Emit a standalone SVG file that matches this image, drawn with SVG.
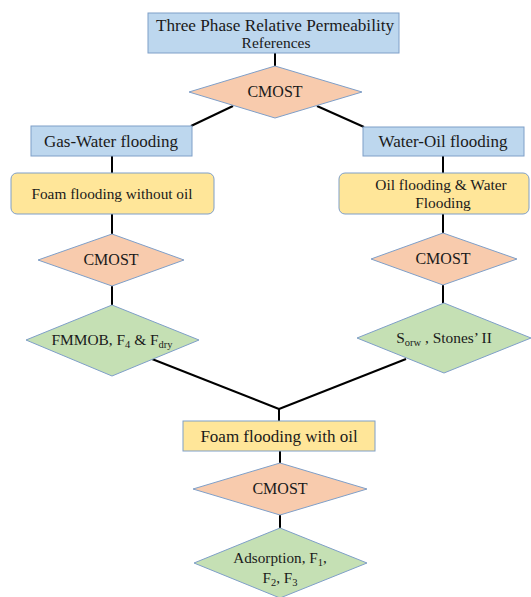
<svg xmlns="http://www.w3.org/2000/svg" width="531" height="597" viewBox="0 0 531 597">
<style>
.t{font-family:"Liberation Serif","Times New Roman",serif;fill:#1a1a1a;text-anchor:middle}
.blue{fill:#BDD7EE;stroke:#7F9FC8;stroke-width:1}
.yel{fill:#FFE699;stroke:#7F9FC8;stroke-width:1}
.org{fill:#F8CBAD;stroke:#7F9FC8;stroke-width:1}
.grn{fill:#C5E0B4;stroke:#7F9FC8;stroke-width:1}
.c{stroke:#000;stroke-width:2;fill:none}
</style>
<rect width="531" height="597" fill="#fff"/>
<g id="connectors">
<line class="c" x1="275" y1="53" x2="275" y2="66"/>
<line class="c" x1="233" y1="106" x2="191" y2="126"/>
<line class="c" x1="317" y1="106" x2="364" y2="127"/>
<line class="c" x1="112" y1="156" x2="112" y2="173"/>
<line class="c" x1="443" y1="156" x2="443" y2="173"/>
<line class="c" x1="112" y1="214" x2="112" y2="234"/>
<line class="c" x1="443" y1="214" x2="443" y2="233"/>
<line class="c" x1="112" y1="286" x2="112" y2="305"/>
<line class="c" x1="443" y1="285" x2="443" y2="303"/>
<line class="c" x1="152" y1="359" x2="279" y2="409"/>
<line class="c" x1="406" y1="359" x2="279" y2="409"/>
<line class="c" x1="279" y1="408" x2="279" y2="421"/>
<line class="c" x1="280" y1="451" x2="280" y2="463"/>
<line class="c" x1="280" y1="515" x2="280" y2="528"/>
</g>
<g id="top">
<rect class="blue" x="148" y="13" width="251" height="40"/>
<text class="t" x="275" y="31" font-size="17.2">Three Phase Relative Permeability</text>
<text class="t" x="276" y="48" font-size="15.5">References</text>
</g>
<g id="cmost1">
<polygon class="org" points="275,66 362,92 275,118 189,92"/>
<text class="t" x="275" y="97" font-size="16">CMOST</text>
</g>
<g id="gaswater">
<rect class="blue" x="31" y="126" width="161" height="30"/>
<text class="t" x="111" y="147" font-size="17">Gas-Water flooding</text>
</g>
<g id="wateroil">
<rect class="blue" x="363" y="127" width="161" height="29"/>
<text class="t" x="443" y="147" font-size="17">Water-Oil flooding</text>
</g>
<g id="foamnooil">
<rect class="yel" x="11" y="173" width="203" height="41" rx="6"/>
<text class="t" x="112" y="199" font-size="15.3">Foam flooding without oil</text>
</g>
<g id="oilwater">
<rect class="yel" x="339" y="173" width="190" height="41" rx="6"/>
<text class="t" x="441" y="190" font-size="15.4">Oil flooding &amp; Water</text>
<text class="t" x="443" y="208" font-size="15.4">Flooding</text>
</g>
<g id="cmost2">
<polygon class="org" points="112,234 184,260 112,286 38,260"/>
<text class="t" x="111" y="265" font-size="16">CMOST</text>
</g>
<g id="cmost3">
<polygon class="org" points="443,233 517,259 443,285 371,259"/>
<text class="t" x="443" y="264" font-size="16">CMOST</text>
</g>
<g id="fmmob">
<polygon class="grn" points="112,305 199,340 112,376 26,340"/>
<text class="t" x="112" y="345" font-size="15.4">FMMOB, F<tspan font-size="10.5" dy="3">4</tspan><tspan dy="-3"> &amp; F</tspan><tspan font-size="10.5" dy="3">dry</tspan></text>
</g>
<g id="sorw">
<polygon class="grn" points="444,303 531,338 444,373 357,338"/>
<text class="t" x="444" y="343" font-size="15.4">S<tspan font-size="10.5" dy="3">orw</tspan><tspan dy="-3"> , Stones’ II</tspan></text>
</g>
<g id="foamoil">
<rect class="yel" x="183" y="421" width="192" height="30"/>
<text class="t" x="279" y="442" font-size="17">Foam flooding with oil</text>
</g>
<g id="cmost4">
<polygon class="org" points="280,463 367,489 280,515 193,489"/>
<text class="t" x="280" y="494" font-size="16">CMOST</text>
</g>
<g id="adsorption">
<polygon class="grn" points="280,528 367,563 280,598 194,563"/>
<text class="t" x="280" y="563" font-size="15.2">Adsorption, F<tspan font-size="10.5" dy="3">1</tspan><tspan dy="-3">,</tspan></text>
<text class="t" x="280" y="583" font-size="15.2">F<tspan font-size="10.5" dy="3">2</tspan><tspan dy="-3">, F</tspan><tspan font-size="10.5" dy="3">3</tspan></text>
</g>
</svg>
